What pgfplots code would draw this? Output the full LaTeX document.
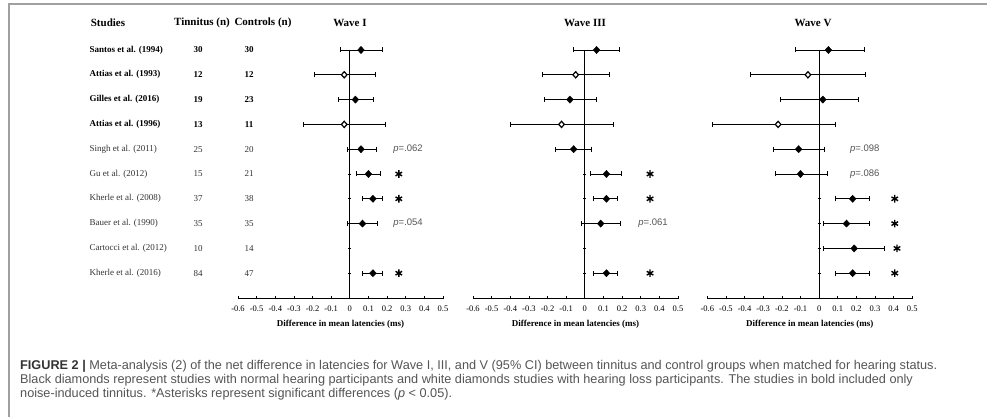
\documentclass[border=0pt]{standalone}
\usepackage{pgfplots}
\pgfplotsset{compat=1.18}
\usepackage{pgfplotstable}
\usepackage{fontspec}
\setmainfont{Liberation Serif}
\newfontfamily\capfont{Liberation Sans}
\newfontfamily\pfont{Liberation Sans}
\definecolor{capgray}{HTML}{555555}
\definecolor{capdark}{HTML}{333333}
\definecolor{framegray}{HTML}{A0A0A0}

% Wave I
\pgfplotstableread{
y m lo hi
10 0.060 -0.050 0.175
8  0.030 -0.060 0.125
6  0.060 -0.015 0.145
5  0.100  0.036 0.165
4  0.124  0.066 0.177
3  0.068 -0.012 0.150
1  0.124  0.066 0.177
}\wIfill
\pgfplotstableread{
y m lo hi
9 -0.030 -0.190 0.135
7 -0.030 -0.250 0.190
}\wIopen
\pgfplotstableread{
x y
0.263 5
0.263 4
0.263 1
}\wIstar
% Wave III
\pgfplotstableread{
y m lo hi
10  0.063 -0.062 0.188
8  -0.080 -0.216 0.060
6  -0.060 -0.156 0.038
5   0.116  0.029 0.197
4   0.116  0.047 0.177
3   0.085 -0.016 0.192
1   0.116  0.047 0.177
}\wIIIfill
\pgfplotstableread{
y m lo hi
9 -0.049 -0.228 0.130
7 -0.125 -0.400 0.152
}\wIIIopen
\pgfplotstableread{
x y
0.350 5
0.350 4
0.350 1
}\wIIIstar
% Wave V
\pgfplotstableread{
y m lo hi
10  0.050 -0.125 0.245
8   0.020 -0.210 0.210
6  -0.110 -0.245 0.030
5  -0.100 -0.235 0.045
4   0.180  0.090 0.270
3   0.147  0.025 0.270
2   0.188  0.025 0.350
1   0.180  0.090 0.270
}\wVfill
\pgfplotstableread{
y m lo hi
9 -0.060 -0.370 0.250
7 -0.220 -0.575 0.090
}\wVopen
\pgfplotstableread{
x y
0.406 4
0.406 3
0.418 2
0.406 1
}\wVstar

\pgfplotsset{
  forest/.style={
    scale only axis, width=205pt, height=248pt,
    xmin=-0.6, xmax=0.5, ymin=0, ymax=10,
    axis x line=bottom, axis y line=center,
    axis line style={-, line width=0.9pt},
    every inner x axis line/.append style={-},
    every inner y axis line/.append style={-},
    every outer x axis line/.append style={-},
    xtick={-0.6,-0.5,-0.4,-0.3,-0.2,-0.1,0,0.1,0.2,0.3,0.4,0.5},
    xticklabels={{-0.6},{-0.5},{-0.4},{-0.3},{-0.2},{-0.1},{0},{0.1},{0.2},{0.3},{0.4},{0.5}},
    ytick={1,2,3,4,5,6,7,8,9,10}, yticklabels={},
    tick align=center, major tick length=3pt,
    tick style={black, line width=0.7pt},
    ticklabel style={font=\fontsize{8.5}{10}\selectfont},
    xticklabel style={yshift=-3pt},
    xlabel={\bfseries Difference in mean latencies (ms)},
    xlabel style={font=\fontsize{9}{11}\selectfont, yshift=-1pt},
    clip=false,
  },
}

\newcommand{\forestplots}[3]{%
  \addplot[only marks, mark=diamond*, mark size=3.6pt, mark options={xscale=1.25}, black,
    error bars/.cd, x dir=both, x explicit,
    error bar style={line width=0.9pt, black},
    error mark options={rotate=90, mark size=2.5pt, line width=0.9pt, black}]
    table[x=m, y=y, x error plus expr=\thisrow{hi}-\thisrow{m}, x error minus expr=\thisrow{m}-\thisrow{lo}] {#1};
  \addplot[only marks, mark=diamond*, mark size=3.1pt, mark options={xscale=1.2, fill=white, draw=black, line width=1.2pt},
    error bars/.cd, x dir=both, x explicit,
    error bar style={line width=0.9pt, black},
    error mark options={rotate=90, mark size=2.5pt, line width=0.9pt, black}]
    table[x=m, y=y, x error plus expr=\thisrow{hi}-\thisrow{m}, x error minus expr=\thisrow{m}-\thisrow{lo}] {#2};
  \addplot[only marks, mark=asterisk, mark size=3.8pt, line width=1.4pt, black] table[x=x,y=y] {#3};
}

\begin{document}
\begin{tikzpicture}
\useasboundingbox (0pt,0pt) rectangle (987pt,417pt);
\fill[white] (0pt,0pt) rectangle (987pt,417pt);
\begin{scope}[x=1pt,y=1pt]
\draw[framegray, line width=1.5pt] (9,0) -- (9,413) -- (987,413);

% headers
\begin{scope}[font=\fontsize{11}{13}\selectfont\bfseries]
\node at (108,394) {Studies};
\node at (202,394) {Tinnitus (n)};
\node at (263,394) {Controls (n)};
\node at (350,394) {Wave I};
\node at (585,394) {Wave III};
\node at (813,394) {Wave V};
\end{scope}

% study rows
\foreach \k/\name/\t/\c/\bf in {
  1/Santos et al. (1994)/30/30/1,
  2/Attias et al. (1993)/12/12/1,
  3/Gilles et al. (2016)/19/23/1,
  4/Attias et al. (1996)/13/11/1,
  5/Singh et al. (2011)/25/20/0,
  6/Gu et al. (2012)/15/21/0,
  7/Kherle et al. (2008)/37/38/0,
  8/Bauer et al. (1990)/35/35/0,
  9/Cartocci et al. (2012)/10/14/0,
  10/Kherle et al. (2016)/84/47/0}{
  \pgfmathsetmacro{\yy}{119+24.8*(11-\k)}
  \ifnum\bf=1
    \node[anchor=west, font=\fontsize{9}{11}\selectfont\bfseries] at (86,\yy) {\name};
    \node[font=\fontsize{9}{11}\selectfont\bfseries] at (198,\yy) {\t};
    \node[font=\fontsize{9}{11}\selectfont\bfseries] at (249,\yy) {\c};
  \else
    \node[anchor=west, font=\fontsize{9}{11}\selectfont, text=capdark] at (86,\yy) {\name};
    \node[font=\fontsize{9}{11}\selectfont, text=capdark] at (198,\yy) {\t};
    \node[font=\fontsize{9}{11}\selectfont, text=capdark] at (249,\yy) {\c};
  \fi
}

% caption
\begin{scope}[font=\capfont\fontsize{12.7}{14}\selectfont, text=capgray]
\node[anchor=base west, inner sep=0] at (20,47.5) {{\bfseries\color{capdark}FIGURE 2 |} Meta-analysis (2) of the net difference in latencies for Wave I, III, and V (95\% CI) between tinnitus and control groups when matched for hearing status.};
\node[anchor=base west, inner sep=0] at (20,33.5) {Black diamonds represent studies with normal hearing participants and white diamonds studies with hearing loss participants. The studies in bold included only};
\node[anchor=base west, inner sep=0] at (20,19.5) {noise-induced tinnitus. *Asterisks represent significant differences (\textit{p} < 0.05).};
\end{scope}
\end{scope}

\begin{axis}[forest, at={(238pt,119pt)}, anchor=south west]
\forestplots{\wIfill}{\wIopen}{\wIstar}
\node[anchor=west, font=\pfont\fontsize{9.5}{11}\selectfont, text=capgray] at (axis cs:0.215,6) {\textit{p}=.062};
\node[anchor=west, font=\pfont\fontsize{9.5}{11}\selectfont, text=capgray] at (axis cs:0.215,3) {\textit{p}=.054};
\end{axis}

\begin{axis}[forest, at={(473pt,119pt)}, anchor=south west]
\forestplots{\wIIIfill}{\wIIIopen}{\wIIIstar}
\node[anchor=west, font=\pfont\fontsize{9.5}{11}\selectfont, text=capgray] at (axis cs:0.268,3) {\textit{p}=.061};
\end{axis}

\begin{axis}[forest, at={(707.3pt,119pt)}, anchor=south west]
\forestplots{\wVfill}{\wVopen}{\wVstar}
\node[anchor=west, font=\pfont\fontsize{9.5}{11}\selectfont, text=capgray] at (axis cs:0.147,6) {\textit{p}=.098};
\node[anchor=west, font=\pfont\fontsize{9.5}{11}\selectfont, text=capgray] at (axis cs:0.147,5) {\textit{p}=.086};
\end{axis}
\end{tikzpicture}
\end{document}
